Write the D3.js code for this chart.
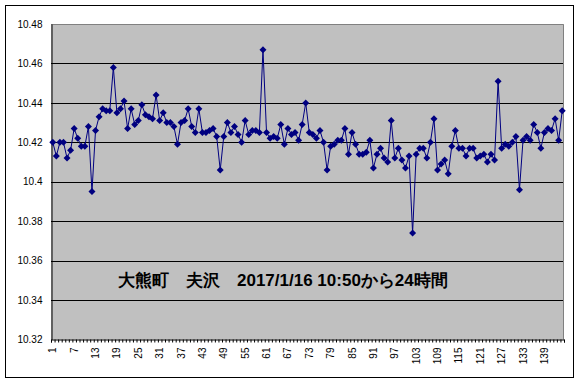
<!DOCTYPE html>
<html>
<head>
<meta charset="utf-8">
<script src="https://cdn.jsdelivr.net/npm/d3@7"></script>
<style>
  body { margin: 0; background: #fff; }
  text { font-family: "Liberation Sans", Arial, sans-serif; }
</style>
</head>
<body>
<div id="chart"></div>
<script>
// readings, one every 10 minutes
const values = [
  10.420, 10.413, 10.420, 10.420, 10.412, 10.416, 10.427, 10.422, 10.418, 10.418,
  10.428, 10.395, 10.426, 10.433, 10.437, 10.436, 10.436, 10.458, 10.435, 10.437,
  10.441, 10.427, 10.437, 10.429, 10.431, 10.439, 10.434, 10.433, 10.432, 10.444,
  10.431, 10.435, 10.430, 10.430, 10.428, 10.419, 10.430, 10.431, 10.437, 10.428,
  10.425, 10.437, 10.425, 10.425, 10.426, 10.427, 10.423, 10.406, 10.423, 10.430,
  10.425, 10.428, 10.424, 10.420, 10.431, 10.424, 10.426, 10.426, 10.425, 10.467,
  10.425, 10.422, 10.423, 10.422, 10.429, 10.419, 10.427, 10.424, 10.425, 10.421,
  10.429, 10.440, 10.425, 10.424, 10.422, 10.426, 10.420, 10.406, 10.418, 10.419,
  10.421, 10.421, 10.427, 10.414, 10.425, 10.419, 10.414, 10.414, 10.415, 10.421,
  10.407, 10.414, 10.417, 10.412, 10.410, 10.431, 10.412, 10.417, 10.411, 10.407,
  10.413, 10.374, 10.414, 10.417, 10.417, 10.412, 10.420, 10.432, 10.406, 10.409,
  10.411, 10.404, 10.418, 10.426, 10.417, 10.417, 10.413, 10.417, 10.417, 10.412,
  10.413, 10.414, 10.410, 10.414, 10.411, 10.451, 10.417, 10.419, 10.418, 10.420,
  10.423, 10.396, 10.421, 10.423, 10.421, 10.429, 10.425, 10.417, 10.425, 10.427,
  10.426, 10.432, 10.421, 10.436
];
const categories = values.map((v, i) => i + 1);
const xLabels = [1, 7, 13, 19, 25, 31, 37, 43, 49, 55, 61, 67, 73, 79, 85, 91, 97, 103, 109, 115, 121, 127, 133, 139];
const yTicks = [10.32, 10.34, 10.36, 10.38, 10.40, 10.42, 10.44, 10.46, 10.48];
const title = "大熊町　夫沢　2017/1/16 10:50から24時間";

const W = 580, H = 384;
const plot = {left: 51, right: 564, top: 24, bottom: 339.5};

const svg = d3.select("#chart").append("svg")
  .attr("width", W)
  .attr("height", H);

// outer chart border
svg.append("rect")
  .attr("x", 5.5).attr("y", 5.5)
  .attr("width", 568).attr("height", 372)
  .attr("fill", "#fff")
  .attr("stroke", "#000");

// plot background
svg.append("rect")
  .attr("x", plot.left).attr("y", plot.top)
  .attr("width", plot.right - plot.left).attr("height", plot.bottom - plot.top)
  .attr("fill", "#c0c0c0");

const x = d3.scaleBand()
  .domain(categories)
  .range([plot.left, plot.right]);

// boundaries of categories for tick marks
const xEdge = d3.scaleLinear()
  .domain([0, categories.length])
  .range([plot.left, plot.right]);

const y = d3.scaleLinear()
  .domain([10.32, 10.48])
  .range([plot.bottom, plot.top]);

// gridlines
svg.append("g")
  .selectAll("line")
  .data(yTicks.slice(1, -1))
  .join("line")
  .attr("x1", plot.left).attr("x2", plot.right)
  .attr("y1", d => Math.round(y(d)) + 0.5)
  .attr("y2", d => Math.round(y(d)) + 0.5)
  .attr("stroke", "#000");

// plot border (top and right in gray)
svg.append("path")
  .attr("d", `M${plot.left},${plot.top + 0.5}H${plot.right - 0.5}V${plot.bottom}`)
  .attr("fill", "none")
  .attr("stroke", "#808080");

// y axis
const yAxis = svg.append("g")
  .attr("transform", `translate(${plot.left + 0.5},0)`)
  .call(d3.axisLeft(y).tickValues(yTicks).tickSize(0).tickPadding(9)
    .tickFormat(d => String(+d.toFixed(2))));
yAxis.select(".domain").attr("stroke", "#000");
yAxis.selectAll("text").attr("font-size", 10).attr("fill", "#000");

// x axis tick marks at category boundaries
const xTicks = svg.append("g")
  .attr("transform", `translate(0,${plot.bottom})`)
  .call(d3.axisBottom(xEdge).tickValues(d3.range(0, categories.length + 1))
    .tickSize(3).tickFormat(""));
xTicks.select(".domain").attr("stroke", "#000");
xTicks.selectAll("line").attr("stroke", "#000");

// x labels
const xAxis = svg.append("g")
  .attr("transform", `translate(0,${plot.bottom})`)
  .call(d3.axisBottom(x).tickValues(xLabels).tickSize(0).tickPadding(0));
xAxis.select(".domain").remove();
xAxis.selectAll("text")
  .attr("font-size", 10)
  .attr("fill", "#000")
  .attr("transform", "rotate(-90)")
  .attr("text-anchor", "end")
  .attr("x", -8)
  .attr("y", 0)
  .attr("dy", "0.35em");

const cx = (d, i) => x(categories[i]) + x.bandwidth() / 2;

const line = d3.line()
  .x(cx)
  .y(d => y(d));

svg.append("path")
  .datum(values)
  .attr("fill", "none")
  .attr("stroke", "#000080")
  .attr("stroke-width", 1)
  .attr("d", line);

// diamond markers
svg.append("g")
  .selectAll("path")
  .data(values)
  .join("path")
  .attr("transform", (d, i) => `translate(${cx(d, i)},${y(d)})`)
  .attr("d", "M0,-3.5L3.5,0L0,3.5L-3.5,0Z")
  .attr("fill", "#000080");

svg.append("text")
  .attr("x", 118)
  .attr("y", 286)
  .attr("font-family", "'Noto Sans CJK JP', sans-serif")
  .attr("font-size", 17)
  .attr("font-weight", "bold")
  .attr("fill", "#000")
  .text(title);
</script>
</body>
</html>
